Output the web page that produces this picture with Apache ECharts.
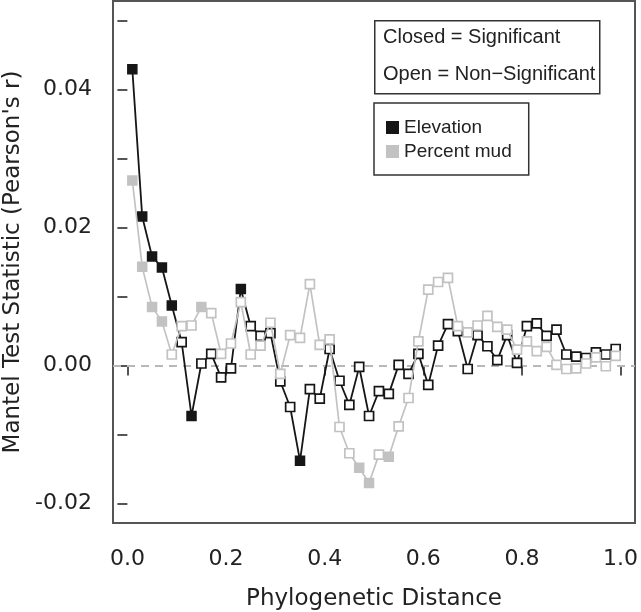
<!DOCTYPE html>
<html>
<head>
<meta charset="utf-8">
<script src="https://cdn.jsdelivr.net/npm/echarts@6/dist/echarts.min.js"></script>
<style>
html,body{margin:0;padding:0;background:#fff;}
#chart{width:641px;height:612px;}
</style>
</head>
<body>
<div id="chart"></div>
<script>
// Phylogenetic distance classes
const distances = [0.01,0.03,0.05,0.07,0.09,0.11,0.13,0.15,0.17,0.19,
                   0.21,0.23,0.25,0.27,0.29,0.31,0.33,0.35,0.37,0.39,
                   0.41,0.43,0.45,0.47,0.49,0.51,0.53,0.55,0.57,0.59,
                   0.61,0.63,0.65,0.67,0.69,0.71,0.73,0.75,0.77,0.79,
                   0.81,0.83,0.85,0.87,0.89,0.91,0.93,0.95,0.97,0.99];
// Mantel r, Elevation
const elevation = [0.0429,0.0216,0.0158,0.0142,0.0087,0.0034,-0.0073,0.0003,0.0017,-0.0017,
                   -0.0004,0.0111,0.0057,0.0043,0.0047,-0.0023,-0.0060,-0.0138,-0.0034,-0.0048,
                   0.0024,-0.0022,-0.0057,-0.0002,-0.0073,-0.0037,-0.0041,0.0001,-0.0012,0.0017,
                   -0.0028,0.0029,0.0060,0.0050,-0.0005,0.0044,0.0028,0.0008,0.0044,0.0004,
                   0.0057,0.0061,0.0043,0.0052,0.0016,0.0013,0.0011,0.0019,0.0016,0.0024];
// 1 = significant (closed), 0 = non-significant (open)
const elevationSig = [1,1,1,1,1,0,1,0,0,0, 0,1,0,0,0,0,0,1,0,0, 0,0,0,0,0,0,0,0,0,0,
                      0,0,0,0,0,0,0,0,0,0, 0,0,0,0,0,0,0,0,0,0];
// Mantel r, Percent mud
const percentMud = [0.0268,0.0143,0.0085,0.0064,0.0016,0.0057,0.0058,0.0085,0.0076,0.0017,
                    0.0032,0.0092,0.0016,0.0029,0.0062,-0.0012,0.0044,0.0040,0.0118,0.0030,
                    0.0038,-0.0089,-0.0127,-0.0148,-0.0170,-0.0129,-0.0132,-0.0088,-0.0047,0.0035,
                    0.0110,0.0121,0.0127,0.0057,0.0048,0.0058,0.0072,0.0056,0.0052,0.0023,
                    0.0035,0.0021,0.0027,0.0001,-0.0005,-0.0004,0.0003,0.0012,-0.0001,0.0014];
const percentMudSig = [1,1,1,1,0,0,0,1,0,0, 0,0,0,0,0,0,0,0,0,0, 0,0,0,1,1,0,1,0,0,0,
                       0,0,0,0,0,0,0,0,0,0, 0,0,0,0,0,0,0,0,0,0];
const xTicks = [0,0.2,0.4,0.6,0.8,1.0];
const yTicks = [-0.02,-0.01,0,0.01,0.02,0.03,0.04,0.05];
const yLabels = [-0.02,0,0.02,0.04];

const BLACK = '#161616';
const GREY = '#c2c2c2';

function build(vals, sig, col) {
  return distances.map((d, i) => ({
    value: [d, vals[i]],
    itemStyle: sig[i]
      ? {color: col, borderColor: col, borderWidth: 1.5}
      : {color: '#ffffff', borderColor: col, borderWidth: 1.7}
  }));
}

const chart = echarts.init(document.getElementById('chart'), null, {renderer: 'canvas'});
const axisFont = {fontFamily: 'DejaVu Sans', fontSize: 22, color: '#222'};
chart.setOption({
  animation: false,
  backgroundColor: '#fff',
  grid: {left: 113, right: 6, top: 1, bottom: 89, containLabel: false, outerBoundsMode: 'none',
         show: true, borderColor: '#555', borderWidth: 2, backgroundColor: 'transparent'},
  xAxis: {
    type: 'value', min: -0.0292, max: 1.0292,
    name: 'Phylogenetic Distance', nameLocation: 'middle', nameGap: 65,
    nameTextStyle: {fontFamily: 'DejaVu Sans', fontSize: 23, color: '#222'},
    axisLine: {show: false},
    splitLine: {show: false},
    axisTick: {show: true, length: 10, customValues: xTicks, lineStyle: {color: '#555', width: 2}},
    axisLabel: Object.assign({margin: 25, customValues: xTicks, formatter: v => v.toFixed(1)}, axisFont)
  },
  yAxis: {
    type: 'value', min: -0.0228, max: 0.0528,
    name: "Mantel Test Statistic (Pearson's r)", nameLocation: 'middle', nameGap: 79,
    nameTextStyle: {fontFamily: 'DejaVu Sans', fontSize: 23, color: '#222'},
    axisLine: {show: false},
    splitLine: {show: false},
    axisTick: {show: true, length: 10, customValues: yTicks, lineStyle: {color: '#555', width: 2}},
    axisLabel: Object.assign({margin: 21, customValues: yLabels, formatter: v => v.toFixed(2)}, axisFont)
  },
  legend: {
    orient: 'vertical', left: 374, top: 103,
    data: ['Elevation', 'Percent mud'],
    icon: 'rect', itemWidth: 13, itemHeight: 13, itemGap: 5, itemTextGap: 9,
    borderColor: '#333', borderWidth: 1.5, backgroundColor: '#fff',
    padding: [15, 17, 14, 12],
    textStyle: {fontFamily: 'Liberation Sans', fontSize: 19, color: '#222', lineHeight: 19},
    selectedMode: false
  },
  graphic: [
    {type: 'rect', left: 374, top: 20, shape: {width: 225, height: 73},
     style: {fill: '#fff', stroke: '#333', lineWidth: 1.5}, z: 100},
    {type: 'text', left: 383, top: 27, z: 101,
     style: {text: 'Closed = Significant', fontFamily: 'Liberation Sans', fontSize: 20, fill: '#222'}},
    {type: 'text', left: 383, top: 64, z: 101,
     style: {text: 'Open = Non\u2212Significant', fontFamily: 'Liberation Sans', fontSize: 20, fill: '#222'}}
  ],
  series: [
    {
      name: 'Elevation', type: 'line', color: BLACK,
      data: build(elevation, elevationSig, BLACK),
      symbol: 'rect', symbolSize: 9, showAllSymbol: true,
      lineStyle: {color: BLACK, width: 1.8},
      itemStyle: {color: BLACK, borderColor: BLACK},
      emphasis: {disabled: true}, silent: true, z: 3,
      markLine: {
        silent: true, symbol: ['none', 'none'], label: {show: false},
        lineStyle: {color: '#b8b8b8', type: [8, 6], width: 1.8},
        data: [{yAxis: 0}], z: 1
      }
    },
    {
      name: 'Percent mud', type: 'line', color: GREY,
      data: build(percentMud, percentMudSig, GREY),
      symbol: 'rect', symbolSize: 9, showAllSymbol: true,
      lineStyle: {color: GREY, width: 1.7},
      itemStyle: {color: GREY, borderColor: GREY},
      emphasis: {disabled: true}, silent: true, z: 4
    }
  ]
});
</script>
</body>
</html>
